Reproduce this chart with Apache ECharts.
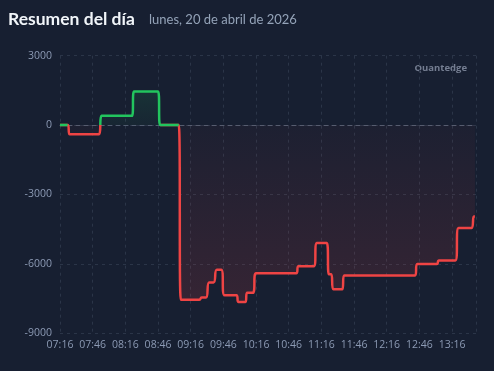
<!DOCTYPE html>
<html>
<head>
<meta charset="utf-8">
<script src="https://cdn.jsdelivr.net/npm/echarts@6/dist/echarts.min.js"></script>
<style>
html,body{margin:0;padding:0;background:#171f31;}
#c{width:494px;height:371px;}
</style>
</head>
<body>
<div id="c"></div>
<script>
// Time of each reading (HH:MM) and P&L value
const times = ['07:16','07:23','07:25','07:52','07:53','07:54','08:22','08:24','08:46','08:48','09:05','09:07','09:24','09:26','09:30','09:33','09:37','09:40','09:44','09:47','09:58','10:00','10:06','10:08','10:13','10:16','10:53','10:55','11:09','11:12','11:21','11:23','11:25','11:27','11:35','11:37','12:42','12:44','13:02','13:04','13:19','13:22','13:34','13:36','13:37'];
const values = [0,0,-400,-400,0,400,400,1450,1450,0,0,-7550,-7550,-7450,-7450,-6800,-6800,-6250,-6250,-7350,-7350,-7650,-7650,-7250,-7250,-6400,-6400,-6100,-6100,-5100,-5100,-6450,-6450,-7100,-7100,-6500,-6500,-6000,-6000,-5850,-5850,-4450,-4450,-3950,-3950];
const xTickLabels = ['07:16','07:46','08:16','08:46','09:16','09:46','10:16','10:46','11:16','11:46','12:16','12:46','13:16'];
const yTicks = [-9000,-6000,-3000,0,3000];
const startTime = '07:16';
const endTime = '13:38';

function toMin(s){const p=s.split(':');return (+p[0])*60+(+p[1]);}
const t0 = toMin(startTime);
function fmt(m){const t=t0+m;const h=Math.floor(t/60),mm=t%60;return String(h).padStart(2,'0')+':'+String(mm).padStart(2,'0');}

const gainData = times.map((t,i)=>[toMin(t)-t0, values[i]>=0?values[i]:null]);
const lossData = times.map((t,i)=>[toMin(t)-t0, values[i]<=0?values[i]:null]);
const labelSet = new Set(xTickLabels);

const chart = echarts.init(document.getElementById('c'));
chart.setOption({
  backgroundColor:'#171f31',
  animation:false,
  title:[
    {text:'Resumen del día',left:8,top:10,padding:0,textStyle:{color:'#f1f5f9',fontSize:17.5,fontWeight:'bold',fontFamily:'Lato'}},
    {text:'lunes, 20 de abril de 2026',left:149,top:13,padding:0,textStyle:{color:'#94a3b8',fontSize:13,fontWeight:'normal',fontFamily:'Lato'}}
  ],
  graphic:[{type:'text',right:27,top:63,style:{text:'Quantedge',fill:'rgba(148,158,178,0.75)',font:'bold 9.5px "Open Sans"'}}],
  grid:{left:60,right:18,top:55.7,bottom:37.7},
  xAxis:{
    type:'value',min:0,max:toMin(endTime)-t0,interval:30,
    axisLine:{onZero:true,lineStyle:{color:'#525d70',type:[4,4],width:1}},
    axisTick:{show:false},
    axisLabel:{color:'#8c9ab4',fontSize:10.5,fontFamily:'Open Sans',margin:6,showMaxLabel:false,
      formatter:v=>labelSet.has(fmt(v))?fmt(v):''},
    splitLine:{show:true,lineStyle:{color:'#2b3548',type:[3,4],width:1}}
  },
  yAxis:{
    type:'value',min:yTicks[0],max:yTicks[yTicks.length-1],interval:3000,
    axisLine:{show:false},axisTick:{show:false},
    axisLabel:{color:'#8c9ab4',fontSize:10.5,fontFamily:'Open Sans',margin:8,formatter:v=>String(v)},
    splitLine:{show:true,lineStyle:{color:'#2b3548',type:[3,4],width:1}}
  },
  series:[
    {type:'line',data:lossData,smooth:true,showSymbol:false,connectNulls:false,
      lineStyle:{color:'#ef4444',width:2.5},
      areaStyle:{origin:0,color:new echarts.graphic.LinearGradient(0,0,0,1,[{offset:0,color:'rgba(239,68,68,0.04)'},{offset:1,color:'rgba(239,68,68,0.2)'}])}},
    {type:'line',data:gainData,smooth:true,showSymbol:false,connectNulls:false,
      lineStyle:{color:'#22c55e',width:2.5},
      areaStyle:{origin:0,color:new echarts.graphic.LinearGradient(0,0,0,1,[{offset:0,color:'rgba(34,197,94,0.17)'},{offset:1,color:'rgba(34,197,94,0.06)'}])}}
  ]
});
</script>
</body>
</html>
